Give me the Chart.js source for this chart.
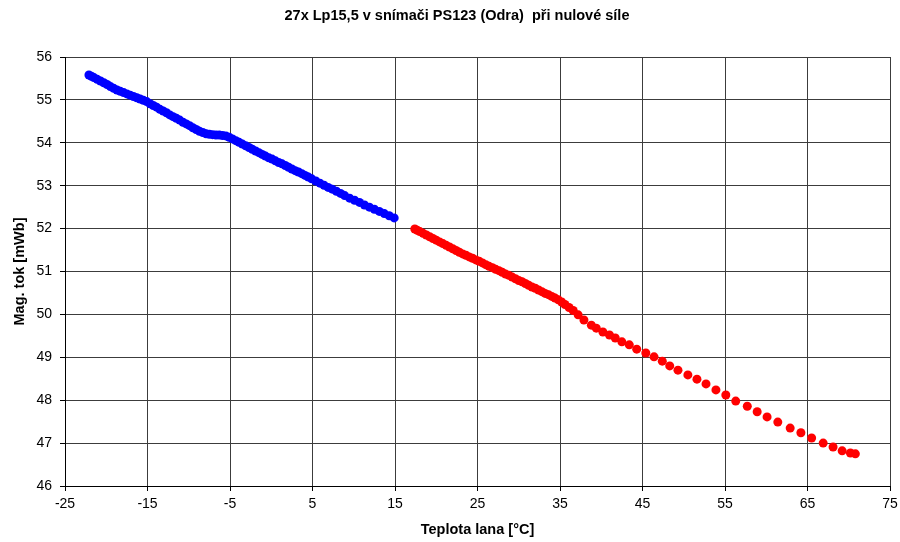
<!DOCTYPE html>
<html>
<head>
<meta charset="utf-8">
<script src="https://cdn.jsdelivr.net/npm/chart.js@4/dist/chart.umd.min.js"></script>
<style>
  body { margin: 0; background: #fff; }
  #chart { display: block; }
</style>
</head>
<body>
<canvas id="chart" width="900" height="542"></canvas>
<script>
// cable temperature [°C] vs. magnetic flux [mWb], cooling branch (blue)
const blueTemps = [
  -22.1, -21.8, -21.5, -21.1, -20.7, -20.3, -19.9, -19.5, -19.1, -18.7,
  -18.3, -17.9, -17.5, -17.1, -16.7, -16.3, -15.9, -15.5, -15.1, -14.7,
  -14.3, -13.9, -13.5, -13.1, -12.7, -12.3, -11.9, -11.5, -11.1, -10.7,
  -10.3, -9.9, -9.5, -9.1, -8.7, -8.3, -7.9, -7.5, -7.1, -6.7,
  -6.3, -5.9, -5.5, -5.1, -4.7, -4.3, -3.9, -3.5, -3.1, -2.7,
  -2.3, -1.9, -1.5, -1.1, -0.7, -0.3, 0.1, 0.5, 0.9, 1.3,
  1.7, 2.1, 2.5, 2.9, 3.3, 3.7, 4.1, 4.5, 4.9, 5.4,
  5.9, 6.4, 6.9, 7.4, 7.9, 8.4, 8.9, 9.5, 10.1, 10.7,
  11.3, 11.9, 12.5, 13.1, 13.7, 14.3, 14.9
];
const blueFlux = [
  55.58, 55.55, 55.52, 55.48, 55.44, 55.40, 55.36, 55.31, 55.27, 55.23,
  55.20, 55.17, 55.14, 55.11, 55.08, 55.05, 55.02, 54.99, 54.96, 54.91,
  54.87, 54.83, 54.78, 54.74, 54.70, 54.65, 54.61, 54.57, 54.53, 54.48,
  54.44, 54.40, 54.35, 54.31, 54.27, 54.24, 54.21, 54.20, 54.19, 54.18,
  54.18, 54.17, 54.16, 54.13, 54.09, 54.05, 54.01, 53.97, 53.93, 53.89,
  53.85, 53.81, 53.77, 53.73, 53.69, 53.65, 53.62, 53.58, 53.54, 53.51,
  53.47, 53.43, 53.39, 53.35, 53.32, 53.28, 53.24, 53.20, 53.16, 53.11,
  53.06, 53.01, 52.96, 52.92, 52.87, 52.82, 52.77, 52.71, 52.66, 52.61,
  52.55, 52.50, 52.45, 52.40, 52.35, 52.30, 52.25
];

// heating branch (red)
const redTemps = [
  17.4, 17.7, 18.0, 18.4, 18.8, 19.2, 19.6, 20.0, 20.4, 20.8,
  21.2, 21.6, 22.0, 22.4, 22.8, 23.2, 23.6, 24.0, 24.4, 24.8,
  25.2, 25.6, 26.0, 26.4, 26.8, 27.2, 27.6, 28.0, 28.4, 28.8,
  29.2, 29.6, 30.0, 30.4, 30.8, 31.2, 31.6, 32.0, 32.4, 32.8,
  33.2, 33.6, 34.0, 34.4, 34.8, 35.2, 35.6, 36.1, 36.6, 37.2,
  37.9, 38.8, 39.4, 40.2, 41.0, 41.7, 42.5, 43.4, 44.3, 45.4,
  46.4, 47.4, 48.3, 49.3, 50.5, 51.6, 52.7, 53.9, 55.1, 56.3,
  57.7, 58.9, 60.1, 61.4, 62.9, 64.2, 65.5, 66.9, 68.1, 69.2,
  70.2, 70.8
];
const redFlux = [
  51.99, 51.96, 51.93, 51.89, 51.85, 51.81, 51.77, 51.73, 51.69, 51.65,
  51.61, 51.57, 51.53, 51.49, 51.45, 51.41, 51.38, 51.34, 51.31, 51.27,
  51.24, 51.20, 51.16, 51.12, 51.09, 51.05, 51.02, 50.98, 50.94, 50.91,
  50.87, 50.83, 50.79, 50.76, 50.72, 50.68, 50.64, 50.61, 50.57, 50.53,
  50.49, 50.46, 50.42, 50.38, 50.34, 50.29, 50.23, 50.16, 50.09, 49.99,
  49.87, 49.75, 49.68, 49.59, 49.52, 49.45, 49.36, 49.29, 49.19, 49.10,
  49.01, 48.91, 48.80, 48.70, 48.59, 48.49, 48.38, 48.24, 48.12, 47.98,
  47.86, 47.73, 47.61, 47.49, 47.35, 47.24, 47.12, 47.00, 46.91, 46.82,
  46.77, 46.75
];

const xRange = [-25, 75];
const yRange = [46, 56];
const titleText = '27x Lp15,5 v snímači PS123 (Odra)  při nulové síle';
const xTitle = 'Teplota lana [°C]';
const yTitle = 'Mag. tok [mWb]';

const fontFamily = "'Liberation Sans', Arial, sans-serif";

const toPoints = function(xs, ys){
  return xs.map((x, i) => ({x: x, y: ys[i]}));
}

const makeDataset = function(xs, ys, color){
  return {
    data: toPoints(xs, ys),
    backgroundColor: color,
    borderWidth: 0,
    pointRadius: 4.5,
    pointHoverRadius: 4.5,
    showLine: false
  };
}

// chart heading sits a bit right of the canvas centre, so draw it by hand
const headingPlugin = {
  id: 'heading',
  afterDraw: function(chart){
    const c = chart.ctx;
    c.save();
    c.font = 'bold 14.5px ' + fontFamily;
    c.fillStyle = '#000';
    c.textAlign = 'center';
    c.textBaseline = 'middle';
    c.fillText(titleText, 457, 16);
    c.restore();
  }
}

Chart.defaults.font.family = fontFamily;
Chart.defaults.font.size = 14;
Chart.defaults.color = '#000';

const ctx = document.getElementById('chart').getContext('2d');
new Chart(ctx, {
  type: 'scatter',
  data: {
    datasets: [
      makeDataset(blueTemps, blueFlux, '#0000ff'),
      makeDataset(redTemps, redFlux, '#ff0000')
    ]
  },
  plugins: [headingPlugin],
  options: {
    responsive: false,
    animation: false,
    devicePixelRatio: 1,
    layout: { padding: { left: 0, right: 10, top: 57, bottom: 0 } },
    plugins: {
      legend: { display: false },
      tooltip: { enabled: false },
      title: { display: false }
    },
    scales: {
      x: {
        type: 'linear',
        min: xRange[0],
        max: xRange[1],
        ticks: { stepSize: 10, padding: 5, maxRotation: 0 },
        grid: { color: '#3c3c3c', lineWidth: 1, tickLength: 5, tickColor: '#000' },
        border: { color: '#000', width: 1 },
        title: {
          display: true,
          text: xTitle,
          font: { size: 14.5, weight: 'bold' },
          padding: { top: 0, bottom: 3.3 }
        },
        afterFit: function(scale){
          scale.height = 56;
          // end labels may hang past the plot edge, there is room for them
          scale.paddingLeft = 0;
          scale.paddingRight = 0;
        }
      },
      y: {
        type: 'linear',
        min: yRange[0],
        max: yRange[1],
        ticks: { stepSize: 1, padding: 8 },
        grid: { color: '#3c3c3c', lineWidth: 1, tickLength: 5, tickColor: '#000' },
        border: { color: '#000', width: 1 },
        title: {
          display: true,
          text: yTitle,
          font: { size: 14.5, weight: 'bold' },
          padding: { top: 11.3, bottom: 0 }
        },
        afterFit: function(scale){ scale.width = 65; }
      }
    }
  }
});
</script>
</body>
</html>
